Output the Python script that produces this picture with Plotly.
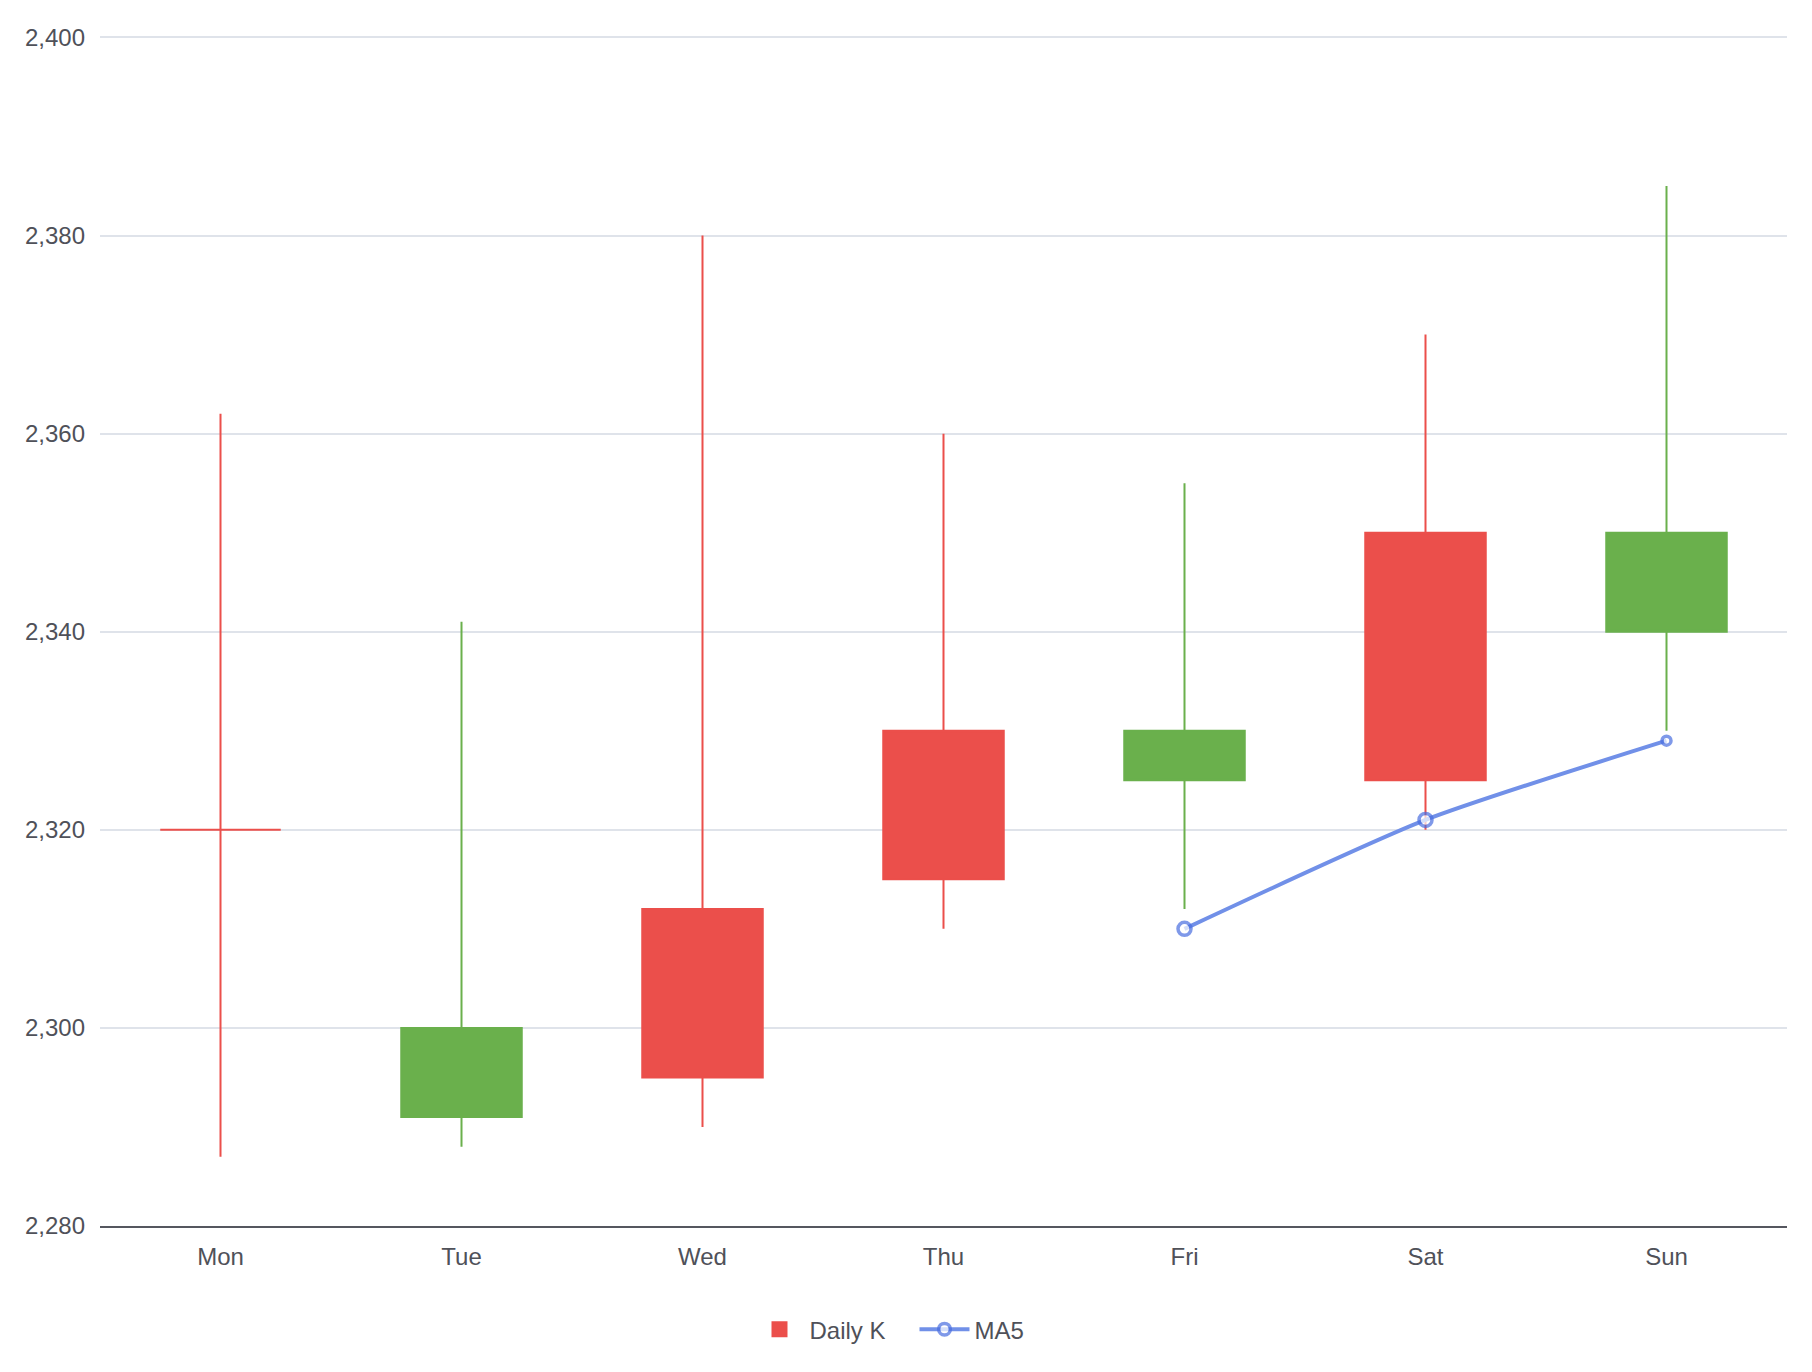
import plotly.graph_objects as go

days = ["Mon", "Tue", "Wed", "Thu", "Fri", "Sat", "Sun"]
open_ = [2320, 2300, 2295, 2315, 2330, 2325, 2350]
close = [2320, 2291, 2312, 2330, 2325, 2350, 2340]
low = [2287, 2288, 2290, 2310, 2312, 2320, 2330]
high = [2362, 2341, 2380, 2360, 2355, 2370, 2385]

ma_days = ["Fri", "Sat", "Sun"]
ma5 = [2310, 2321, 2329]

yticks = [2280, 2300, 2320, 2340, 2360, 2380, 2400]

RED = "#EB4F4B"
GREEN = "#6AB04C"
TEXT = "#4f5159"
FONT = "Liberation Sans, Arial, sans-serif"

fig = go.Figure()
fig.add_trace(go.Candlestick(
    x=days, open=open_, high=high, low=low, close=close,
    name="Daily K", legendgroup="k", showlegend=False,
    increasing=dict(line=dict(color=RED, width=2), fillcolor=RED),
    decreasing=dict(line=dict(color=GREEN, width=2), fillcolor=GREEN),
    whiskerwidth=0,
    hoverinfo="x+y",
))
# legend proxy for the candlestick series
fig.add_trace(go.Scatter(
    x=[None], y=[None], name="Daily K", legendgroup="k", mode="markers",
    marker=dict(symbol="square", size=30, color=RED),
))
fig.add_trace(go.Scatter(
    x=ma_days, y=ma5, name="MA5", mode="lines+markers",
    line=dict(color="#7190e8", width=4, shape="spline", smoothing=0.6),
    marker=dict(symbol="circle", size=[13, 13, 9], color="white",
                line=dict(color="#4a6ee0", width=3.5)),
))

fig.update_layout(
    width=1796, height=1356,
    paper_bgcolor="white", plot_bgcolor="white",
    margin=dict(l=92, r=17, t=27, b=135),
    font=dict(family=FONT, size=24, color=TEXT),
    boxgap=0.5, boxgroupgap=0,
    showlegend=True,
    legend=dict(orientation="h", x=0.385, xanchor="left", y=-0.087, yanchor="middle",
                font=dict(size=24, color=TEXT), itemwidth=50, tracegroupgap=0,
                entrywidth=100, entrywidthmode="pixels"),
    xaxis=dict(
        type="category", categoryorder="array", categoryarray=days,
        rangeslider=dict(visible=False),
        showgrid=False, showline=True, linecolor="#55575f", linewidth=2,
        ticks="", tickfont=dict(size=24, color=TEXT), ticklabelstandoff=8,
        zeroline=False, fixedrange=True,
    ),
    yaxis=dict(
        range=[2280, 2400.25], tickvals=yticks, tickformat=",d",
        showgrid=True, gridcolor="#dfe3ea", gridwidth=1.5,
        showline=False, zeroline=False, ticks="",
        tickfont=dict(size=24, color=TEXT), ticklabelstandoff=14,
        fixedrange=True,
    ),
)

fig.write_html("out.html")
